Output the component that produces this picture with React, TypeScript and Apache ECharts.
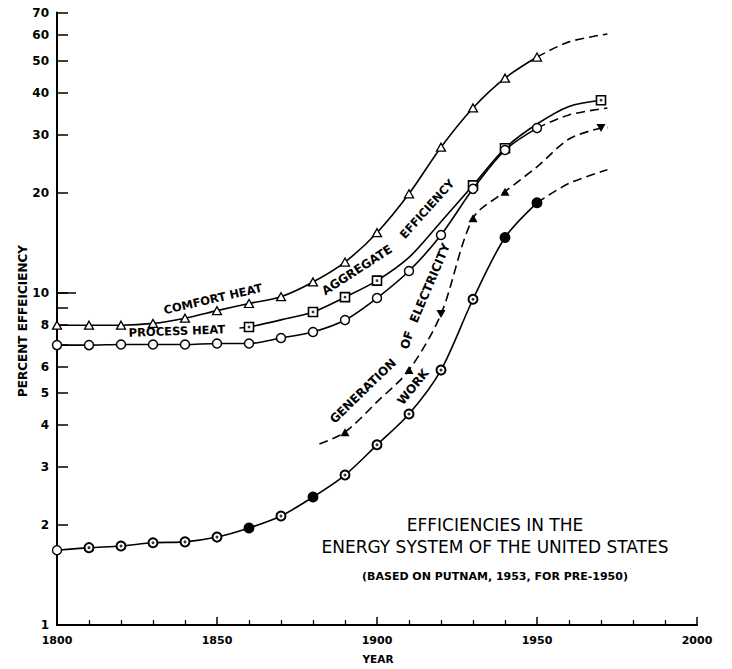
import React, { useEffect, useRef } from "react";
import * as echarts from "echarts";

// ---------- data ----------
const comfortYears = [1800, 1810, 1820, 1830, 1840, 1850, 1860, 1870, 1880, 1890, 1900, 1910, 1920, 1930, 1940, 1950];
const comfortValues = [8.0, 8.0, 8.0, 8.1, 8.4, 8.85, 9.3, 9.75, 10.8, 12.4, 15.2, 19.9, 27.5, 36.1, 44.4, 51.4];
const comfortProjYears = [1950, 1960, 1972];
const comfortProjValues = [51.4, 57.1, 60.3];

const processYears = [1800, 1810, 1820, 1830, 1840, 1850, 1860, 1870, 1880, 1890, 1900, 1910, 1920, 1930, 1940, 1950];
const processValues = [6.97, 6.97, 7.0, 7.0, 7.0, 7.05, 7.05, 7.32, 7.63, 8.29, 9.66, 11.65, 14.95, 20.6, 26.96, 31.4];
const processProjYears = [1950, 1960, 1972];
const processProjValues = [31.4, 34.4, 36.1];

const aggregateYears = [1857, 1860, 1870, 1880, 1890, 1900, 1910, 1920, 1930, 1940, 1950, 1960, 1970];
const aggregateValues = [7.85, 7.9, 8.3, 8.77, 9.72, 10.9, 12.8, 16.4, 21.1, 27.3, 32.3, 36.5, 38.1];

const generationYears = [1882, 1890, 1900, 1910, 1920, 1930, 1940, 1950, 1960, 1970, 1972];
const generationValues = [3.51, 3.81, 4.7, 5.86, 8.64, 16.8, 20.2, 24.0, 29.1, 31.4, 31.5];

const workYears = [1800, 1810, 1820, 1830, 1840, 1850, 1860, 1870, 1880, 1890, 1900, 1910, 1920, 1930, 1940, 1950];
const workValues = [1.68, 1.71, 1.73, 1.77, 1.78, 1.84, 1.96, 2.13, 2.43, 2.83, 3.49, 4.32, 5.86, 9.58, 14.7, 18.7];
const workProjYears = [1950, 1960, 1972];
const workProjValues = [18.7, 21.4, 23.5];

const yTickValues = [1, 2, 3, 4, 5, 6, 7, 8, 9, 10, 20, 30, 40, 50, 60, 70];
const yLabelValues = [1, 2, 3, 4, 5, 6, 8, 10, 20, 30, 40, 50, 60, 70];

// ---------- marker styles ----------
const aggregateMarks = ["none", "sq", "none", "sq", "sq", "sq", "none", "none", "sq", "sq", "none", "none", "sq"];
const generationMarks = ["none", "up", "none", "up", "down", "up", "up", "none", "none", "down", "none"];
const workMarks = ["hollow", "dot", "dot", "dot", "dot", "dot", "filled", "dot", "filled", "dot", "dot", "dot", "dot", "dot", "filled", "filled"];

const FONT = "DejaVu Sans";
const BLACK = "#000";

const zip = (xs: number[], ys: number[]) => xs.map((x, i) => [x, ys[i]]);

function labelText(text: string, x: number, y: number, deg: number, size = 11.5, weight: any = "bold") {
  return {
    type: "text",
    x,
    y,
    rotation: (deg * Math.PI) / 180,
    z: 100,
    style: {
      text,
      fill: BLACK,
      font: `${weight} ${size}px "${FONT}"`,
      textAlign: "center",
      textVerticalAlign: "middle",
      align: "center",
      verticalAlign: "middle",
    },
  };
}

export default function App() {
  const ref = useRef<HTMLDivElement>(null);

  useEffect(() => {
    if (!ref.current) return;
    const chart = echarts.init(ref.current, undefined, { renderer: "svg" });

    const lineBase = {
      type: "line",
      smooth: 0.3,
      animation: false,
      lineStyle: { color: BLACK, width: 1.6 },
    };
    const dashed = { color: BLACK, width: 1.6, type: [9, 5] };

    const aggregateData = aggregateYears.map((yr, i) =>
      aggregateMarks[i] === "none" ? { value: [yr, aggregateValues[i]], symbol: "none" } : { value: [yr, aggregateValues[i]] }
    );
    const aggregateDots = aggregateYears
      .map((yr, i) => [yr, aggregateValues[i]])
      .filter((_, i) => aggregateMarks[i] === "sq");

    const generationData = generationYears.map((yr, i) => {
      const m = generationMarks[i];
      if (m === "none") return { value: [yr, generationValues[i]], symbol: "none" };
      return { value: [yr, generationValues[i]], symbolRotate: m === "down" ? 180 : 0 };
    });

    const workData = workYears.map((yr, i) => {
      const m = workMarks[i];
      if (m === "filled") return { value: [yr, workValues[i]], itemStyle: { color: BLACK, borderColor: BLACK } };
      if (m === "hollow") return { value: [yr, workValues[i]], itemStyle: { borderWidth: 1.4 } };
      return { value: [yr, workValues[i]] };
    });
    const workDots = workYears.map((yr, i) => [yr, workValues[i]]).filter((_, i) => workMarks[i] === "dot");

    const option: any = {
      animation: false,
      backgroundColor: "#fff",
      grid: { left: 57, right: 35, top: 12.5, bottom: 44 },
      xAxis: {
        type: "value",
        min: 1800,
        max: 2000,
        interval: 50,
        axisLine: { show: true, lineStyle: { color: BLACK, width: 2 } },
        axisTick: { show: true, inside: true, length: 8, lineStyle: { color: BLACK, width: 1.5 } },
        minorTick: { show: true, splitNumber: 5, length: 5, lineStyle: { color: BLACK, width: 1.3 } },
        splitLine: { show: false },
        minorSplitLine: { show: false },
        axisLabel: {
          color: BLACK,
          fontFamily: FONT,
          fontWeight: "bold",
          fontSize: 11,
          margin: 10,
          formatter: (v: number) => String(v),
        },
      },
      yAxis: [
        {
          type: "log",
          logBase: 10,
          min: 1,
          max: 70,
          axisLine: { show: true, lineStyle: { color: BLACK, width: 2 } },
          axisTick: { show: true, inside: true, length: 11, customValues: yTickValues, lineStyle: { color: BLACK, width: 1.5 } },
          axisLabel: {
            show: true,
            customValues: yLabelValues,
            color: BLACK,
            fontFamily: FONT,
            fontWeight: "bold",
            fontSize: 12,
            margin: 8,
            formatter: (v: number) => String(Math.round(v)),
          },
          splitLine: { show: false },
        },
        {
          type: "log",
          logBase: 10,
          min: 1,
          max: 70,
          position: "left",
          axisLine: { show: false },
          axisTick: { show: true, inside: true, length: 19, customValues: [10], lineStyle: { color: BLACK, width: 1.5 } },
          axisLabel: { show: false },
          splitLine: { show: false },
        },
      ],
      series: [
        {
          ...lineBase,
          name: "Comfort heat",
          data: zip(comfortYears, comfortValues),
          symbol: "triangle",
          symbolSize: [9, 8],
          itemStyle: { color: "#fff", borderColor: BLACK, borderWidth: 1.3 },
          z: 3,
        },
        {
          ...lineBase,
          name: "Comfort heat (projected)",
          data: zip(comfortProjYears, comfortProjValues),
          symbol: "none",
          lineStyle: dashed,
        },
        {
          ...lineBase,
          name: "Aggregate efficiency",
          data: aggregateData,
          symbol: "rect",
          symbolSize: 9,
          itemStyle: { color: "#fff", borderColor: BLACK, borderWidth: 1.6 },
          z: 3,
        },
        {
          type: "scatter",
          name: "Aggregate dots",
          data: aggregateDots,
          symbol: "rect",
          symbolSize: 2.5,
          itemStyle: { color: BLACK },
          z: 4,
        },
        {
          ...lineBase,
          name: "Process heat",
          data: zip(processYears, processValues),
          symbol: "circle",
          symbolSize: 9,
          itemStyle: { color: "#fff", borderColor: BLACK, borderWidth: 1.5 },
          z: 5,
        },
        {
          ...lineBase,
          name: "Process heat (projected)",
          data: zip(processProjYears, processProjValues),
          symbol: "none",
          lineStyle: dashed,
        },
        {
          ...lineBase,
          name: "Generation of electricity",
          data: generationData,
          symbol: "triangle",
          symbolSize: [9, 8],
          itemStyle: { color: BLACK },
          lineStyle: dashed,
          z: 3,
        },
        {
          ...lineBase,
          name: "Work",
          data: workData,
          symbol: "circle",
          symbolSize: 9,
          itemStyle: { color: "#fff", borderColor: BLACK, borderWidth: 2 },
          z: 3,
        },
        {
          type: "scatter",
          name: "Work dots",
          data: workDots,
          symbol: "circle",
          symbolSize: 3,
          itemStyle: { color: BLACK },
          z: 4,
        },
        {
          ...lineBase,
          name: "Work (projected)",
          data: zip(workProjYears, workProjValues),
          symbol: "none",
          lineStyle: dashed,
        },
      ],
      graphic: [
        labelText("PERCENT EFFEICIENCY", 23, 321, 90, 12),
        labelText("YEAR", 378, 659, 0, 10.5),
        labelText("COMFORT HEAT", 213, 299, 13, 11.5),
        labelText("PROCESS HEAT", 177, 331, 2, 11.5),
        labelText("AGGREGATE", 357, 270, 33, 12),
        labelText("EFFICIENCY", 427, 209, 48, 11.5),
        labelText("GENERATION", 363, 391, 44, 12),
        labelText("OF", 407, 340, 72, 12),
        labelText("ELECTRICITY", 430, 283, 67, 12),
        labelText("WORK", 413, 387, 51, 12),
        labelText("EFFICIENCIES IN THE", 495, 525, 0, 17, "normal"),
        labelText("ENERGY SYSTEM OF THE UNITED STATES", 495, 547, 0, 17, "normal"),
        labelText("(BASED ON PUTNAM, 1953, FOR PRE-1950)", 495, 576, 0, 11),
      ],
    };

    chart.setOption(option);
    return () => chart.dispose();
  }, []);

  return (
    <div
      ref={ref}
      style={{ position: "fixed", left: 0, top: 0, width: 732, height: 669, background: "#fff" }}
    />
  );
}
